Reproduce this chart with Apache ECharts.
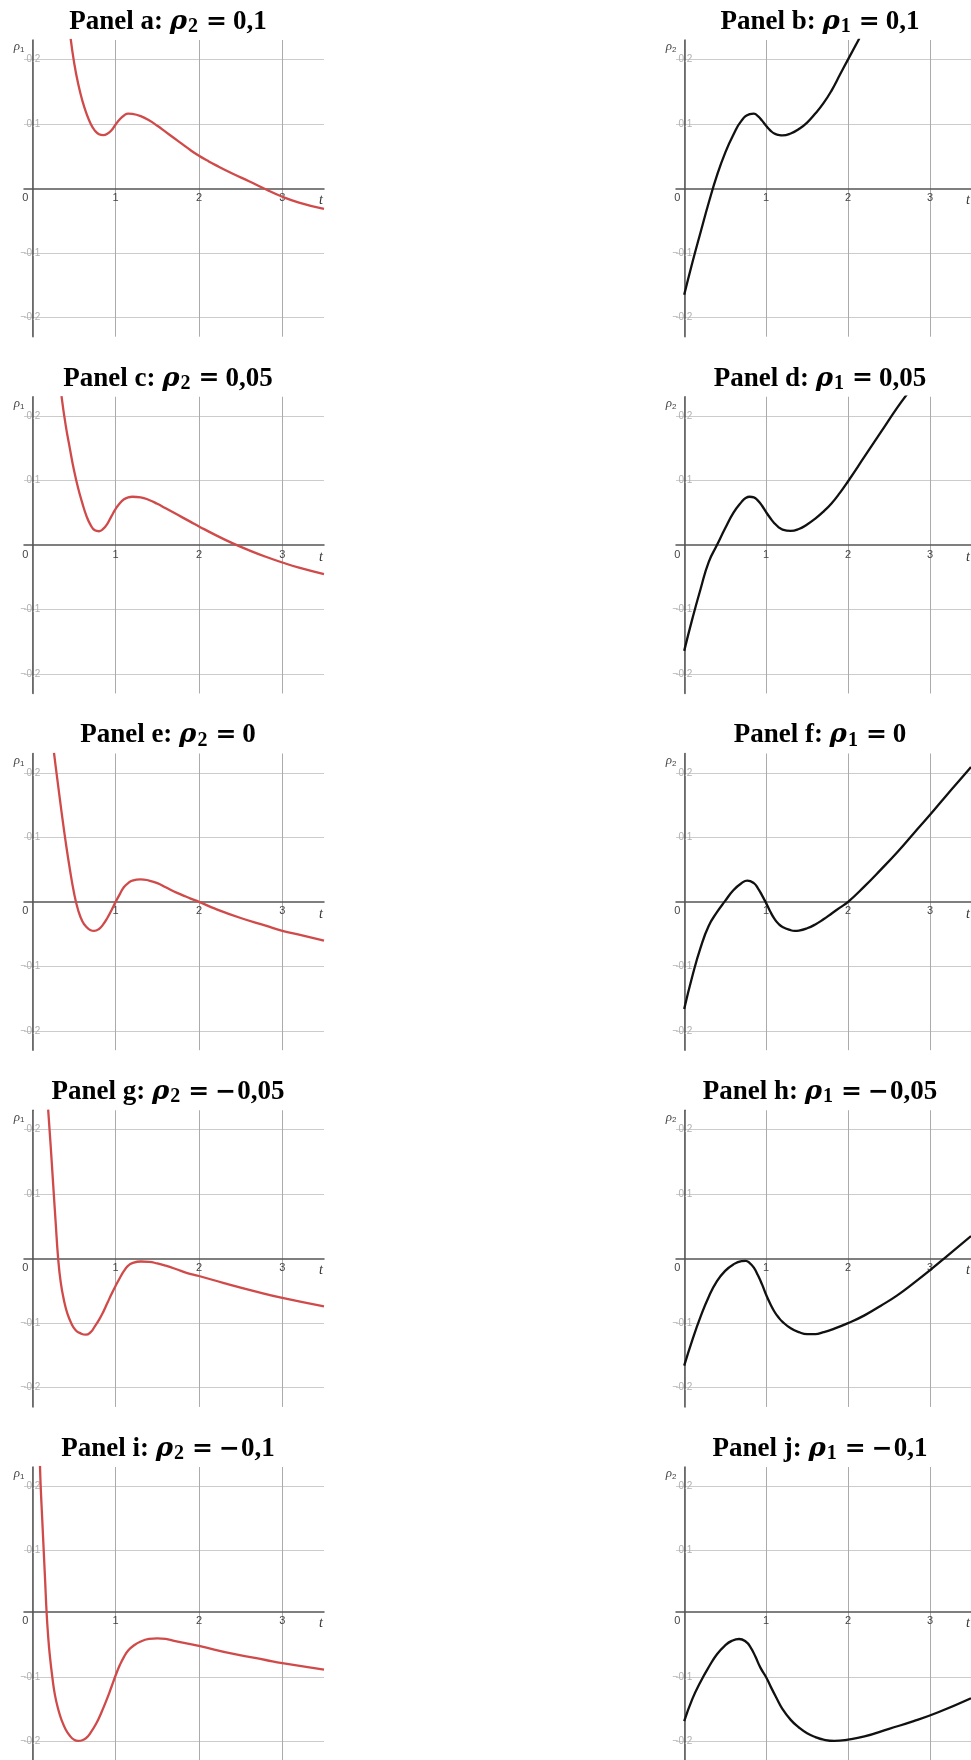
<!DOCTYPE html>
<html>
<head>
<meta charset="utf-8">
<script src="https://cdn.jsdelivr.net/npm/echarts@6/dist/echarts.min.js"></script>
<style>
  html, body { margin: 0; padding: 0; background: #fff; }
  #chart { width: 971px; height: 1760px; }
</style>
</head>
<body>
<div id="chart"></div>
<script>
// Panel titles: letter, which rho is held fixed and its value
const panelLetters = ['a', 'b', 'c', 'd', 'e', 'f', 'g', 'h', 'i', 'j'];
const fixedIndex   = ['2', '1', '2', '1', '2', '1', '2', '1', '2', '1'];
const fixedValue   = ['0,1', '0,1', '0,05', '0,05', '0', '0', '−0,05', '−0,05', '−0,1', '−0,1'];

// Tick labels
const xTicks = [0, 1, 2, 3];
const yTicks = [-0.2, -0.1, 0.1, 0.2];

// Panel a: rho1(t), rho2 = 0,1
const tA = [0.46, 0.5, 0.55, 0.6, 0.65, 0.7, 0.75, 0.8, 0.85, 0.9, 0.95, 1.0, 1.05, 1.1, 1.15, 1.2, 1.3, 1.4, 1.5, 1.6, 1.7, 1.8, 1.9, 2.0, 2.1, 2.2, 2.4, 2.6, 2.8, 3.0, 3.2, 3.5];
const vA = [0.232, 0.196, 0.162, 0.136, 0.116, 0.100, 0.0895, 0.084, 0.0825, 0.0845, 0.090, 0.099, 0.107, 0.113, 0.116, 0.1155, 0.112, 0.1055, 0.097, 0.0875, 0.078, 0.0685, 0.059, 0.0505, 0.043, 0.036, 0.023, 0.011, -0.0015, -0.013, -0.022, -0.032];
// Panel b: rho2(t), rho1 = 0,1
const tB = [0, 0.1, 0.2, 0.3, 0.4, 0.5, 0.6, 0.7, 0.8, 0.85, 0.9, 0.95, 1.0, 1.05, 1.1, 1.15, 1.2, 1.3, 1.4, 1.5, 1.6, 1.7, 1.8, 1.9, 2.0, 2.14];
const vB = [-0.165, -0.115, -0.068, -0.022, 0.020, 0.055, 0.083, 0.105, 0.115, 0.116, 0.112, 0.105, 0.097, 0.090, 0.085, 0.083, 0.082, 0.085, 0.092, 0.102, 0.116, 0.132, 0.152, 0.176, 0.200, 0.233];
// Panel c: rho1(t), rho2 = 0,05
const tC = [0.35, 0.4, 0.45, 0.5, 0.55, 0.6, 0.65, 0.7, 0.75, 0.8, 0.85, 0.9, 0.95, 1.0, 1.05, 1.1, 1.15, 1.2, 1.3, 1.4, 1.5, 1.6, 1.7, 1.8, 1.9, 2.0, 2.2, 2.4, 2.6, 2.8, 3.0, 3.2, 3.5];
const vC = [0.231, 0.186, 0.150, 0.116, 0.088, 0.065, 0.045, 0.031, 0.023, 0.0215, 0.025, 0.033, 0.045, 0.056, 0.065, 0.071, 0.074, 0.075, 0.074, 0.070, 0.064, 0.057, 0.050, 0.043, 0.036, 0.029, 0.0155, 0.003, -0.008, -0.018, -0.027, -0.035, -0.045];
// Panel d: rho2(t), rho1 = 0,05
const tD = [0, 0.1, 0.2, 0.3, 0.4, 0.5, 0.6, 0.7, 0.75, 0.8, 0.85, 0.9, 0.95, 1.0, 1.05, 1.1, 1.15, 1.2, 1.3, 1.4, 1.5, 1.6, 1.7, 1.8, 1.9, 2.0, 2.2, 2.4, 2.6, 2.72];
const vD = [-0.164, -0.114, -0.068, -0.026, 0, 0.026, 0.050, 0.067, 0.073, 0.075, 0.074, 0.069, 0.061, 0.051, 0.042, 0.034, 0.028, 0.024, 0.022, 0.025, 0.032, 0.041, 0.052, 0.065, 0.081, 0.099, 0.137, 0.175, 0.213, 0.234];
// Panel e: rho1(t), rho2 = 0
const tE = [0.26, 0.28, 0.3, 0.35, 0.4, 0.45, 0.5, 0.55, 0.6, 0.65, 0.7, 0.74, 0.8, 0.85, 0.9, 0.95, 1.0, 1.05, 1.1, 1.15, 1.2, 1.3, 1.4, 1.5, 1.6, 1.7, 1.8, 1.9, 2.0, 2.2, 2.5, 2.8, 3.0, 3.2, 3.5];
const vE = [0.231, 0.210, 0.190, 0.140, 0.093, 0.051, 0.014, -0.013, -0.030, -0.039, -0.044, -0.045, -0.042, -0.035, -0.025, -0.013, 0, 0.012, 0.023, 0.029, 0.033, 0.035, 0.033, 0.029, 0.0225, 0.016, 0.0105, 0.005, 0, -0.011, -0.025, -0.037, -0.045, -0.051, -0.060];
// Panel f: rho2(t), rho1 = 0
const tF = [0, 0.1, 0.2, 0.3, 0.4, 0.5, 0.6, 0.7, 0.77, 0.85, 0.9, 0.95, 1.0, 1.05, 1.1, 1.15, 1.2, 1.3, 1.35, 1.4, 1.5, 1.6, 1.7, 1.8, 1.9, 2.0, 2.2, 2.4, 2.6, 2.8, 3.0, 3.2, 3.44, 3.5];
const vF = [-0.166, -0.115, -0.071, -0.037, -0.016, 0.0015, 0.018, 0.029, 0.033, 0.029, 0.021, 0.010, -0.002, -0.015, -0.026, -0.034, -0.039, -0.044, -0.045, -0.0445, -0.041, -0.035, -0.027, -0.018, -0.009, 0, 0.024, 0.050, 0.077, 0.106, 0.135, 0.165, 0.200, 0.209];
// Panel g: rho1(t), rho2 = -0,05
const tG = [0.19, 0.22, 0.25, 0.28, 0.31, 0.34, 0.38, 0.42, 0.47, 0.52, 0.58, 0.64, 0.7, 0.75, 0.8, 0.85, 0.9, 0.95, 1.0, 1.05, 1.1, 1.15, 1.2, 1.3, 1.4, 1.5, 1.6, 1.73, 1.85, 2.0, 2.3, 2.65, 3.0, 3.5];
const vG = [0.231, 0.175, 0.115, 0.056, 0, -0.036, -0.065, -0.085, -0.101, -0.111, -0.116, -0.118, -0.114, -0.105, -0.095, -0.083, -0.069, -0.055, -0.042, -0.030, -0.019, -0.011, -0.007, -0.0045, -0.005, -0.0075, -0.011, -0.0165, -0.022, -0.027, -0.038, -0.050, -0.061, -0.074];
// Panel h: rho2(t), rho1 = -0,05
const tH = [0, 0.1, 0.2, 0.3, 0.4, 0.5, 0.6, 0.7, 0.75, 0.8, 0.85, 0.9, 0.95, 1.0, 1.05, 1.1, 1.15, 1.2, 1.3, 1.4, 1.5, 1.6, 1.7, 1.8, 2.0, 2.2, 2.4, 2.6, 2.8, 3.0, 3.2, 3.5];
const vH = [-0.166, -0.126, -0.090, -0.059, -0.035, -0.019, -0.009, -0.004, -0.0035, -0.007, -0.014, -0.026, -0.040, -0.056, -0.070, -0.082, -0.091, -0.098, -0.108, -0.114, -0.117, -0.117, -0.114, -0.110, -0.100, -0.088, -0.073, -0.057, -0.038, -0.018, 0.003, 0.035];
// Panel i: rho1(t), rho2 = -0,1
const tI = [0.092, 0.10, 0.118, 0.136, 0.154, 0.172, 0.19, 0.21, 0.24, 0.27, 0.31, 0.35, 0.4, 0.45, 0.5, 0.55, 0.6, 0.65, 0.7, 0.77, 0.83, 0.89, 0.95, 1.0, 1.05, 1.1, 1.15, 1.21, 1.3, 1.4, 1.5, 1.6, 1.7, 1.85, 2.0, 2.4, 2.8, 3.0, 3.5];
const vI = [0.232, 0.200, 0.150, 0.100, 0.050, 0, -0.036, -0.066, -0.100, -0.127, -0.150, -0.167, -0.182, -0.192, -0.198, -0.200, -0.199, -0.195, -0.187, -0.172, -0.155, -0.136, -0.115, -0.097, -0.081, -0.068, -0.058, -0.051, -0.044, -0.040, -0.039, -0.040, -0.043, -0.047, -0.051, -0.063, -0.073, -0.078, -0.088];
// Panel j: rho2(t), rho1 = -0,1
const tJ = [0, 0.1, 0.2, 0.3, 0.4, 0.5, 0.58, 0.67, 0.75, 0.81, 0.87, 0.93, 1.0, 1.06, 1.12, 1.2, 1.3, 1.4, 1.5, 1.6, 1.7, 1.83, 2.0, 2.2, 2.5, 2.8, 3.1, 3.5];
const vJ = [-0.169, -0.134, -0.107, -0.084, -0.064, -0.050, -0.043, -0.040, -0.044, -0.053, -0.068, -0.085, -0.100, -0.116, -0.131, -0.150, -0.167, -0.179, -0.188, -0.194, -0.198, -0.200, -0.198, -0.193, -0.181, -0.169, -0.155, -0.133];

const panelT = [tA, tB, tC, tD, tE, tF, tG, tH, tI, tJ];
const panelV = [vA, vB, vC, vD, vE, vF, vG, vH, vI, vJ];

// Axis ranges
const X_MIN = -0.1, X_MAX = 3.5;
const Y_MIN = -0.23, Y_MAX = 0.23;

// Layout
const ROW_PITCH = 356.75;
const GRID_TOP = 40;
const GRID_W = 300;
const GRID_H = 296.7;
const LEFT_X = 24;
const RIGHT_X = 676;
const RED = '#d04a4a';
const BLACK = '#111111';

// The axes cross at the origin; shift them in from the grid edges
const X_AXIS_SHIFT = -GRID_H * (0 - Y_MIN) / (Y_MAX - Y_MIN);
const Y_AXIS_SHIFT = -GRID_W * (0 - X_MIN) / (X_MAX - X_MIN);

const labelFont = 'Liberation Sans, Arial, sans-serif';
const serif = 'Liberation Serif, Times New Roman, serif';
const mathSerif = 'DejaVu Serif, serif';

const grids = [], xAxes = [], yAxes = [], series = [], titles = [];

function titleText(letter, idx, value) {
  let valuePart = value;
  let minus = '';
  if (value.startsWith('−')) { minus = '{m|−}'; valuePart = value.slice(1); }
  return `{p|Panel ${letter}: }{r|ρ}{s|${idx}}{e|=}${minus}{v|${valuePart}}`;
}

panelLetters.forEach((letter, i) => {
  const row = Math.floor(i / 2);
  const isLeft = i % 2 === 0;
  const gx = isLeft ? LEFT_X : RIGHT_X;
  const gy = GRID_TOP + row * ROW_PITCH;

  grids.push({ left: gx, top: gy, width: GRID_W, height: GRID_H, containLabel: false });

  titles.push({
    text: titleText(letter, fixedIndex[i], fixedValue[i]),
    left: gx + GRID_W / 2 - 6,
    top: gy - 33,
    padding: 0,
    textAlign: 'center',
    textVerticalAlign: 'top',
    textStyle: {
      rich: {
        p: { fontFamily: serif, fontWeight: 'bold', fontSize: 27, color: '#000', lineHeight: 30, verticalAlign: 'middle' },
        r: { fontFamily: mathSerif, fontWeight: 'bold', fontStyle: 'italic', fontSize: 26, color: '#000', lineHeight: 30, verticalAlign: 'middle' },
        s: { fontFamily: serif, fontWeight: 'bold', fontSize: 20, color: '#000', lineHeight: 16, verticalAlign: 'bottom', padding: [0, 1, 0, 1] },
        e: { fontFamily: mathSerif, fontWeight: 'bold', fontSize: 25, color: '#000', lineHeight: 30, verticalAlign: 'middle', padding: [0, 6, 0, 7] },
        m: { fontFamily: mathSerif, fontWeight: 'bold', fontSize: 25, color: '#000', lineHeight: 30, verticalAlign: 'middle', padding: [0, 1, 0, 0] },
        v: { fontFamily: serif, fontWeight: 'bold', fontSize: 27, color: '#000', lineHeight: 30, verticalAlign: 'middle' }
      }
    }
  });

  xAxes.push({
    gridIndex: i,
    type: 'value',
    min: X_MIN,
    max: X_MAX,
    position: 'bottom',
    offset: X_AXIS_SHIFT,
    axisLine: { onZero: false, lineStyle: { color: '#555', width: 1.5 } },
    axisTick: { show: false, customValues: xTicks },
    axisLabel: {
      customValues: xTicks,
      color: '#444',
      fontSize: 11,
      fontFamily: labelFont,
      margin: 4,
      formatter: v => (v === 0 ? '{z|0}' : String(v)),
      rich: { z: { color: '#444', fontSize: 11, fontFamily: labelFont, padding: [0, 14, 0, 0] } }
    },
    splitLine: { show: true, lineStyle: { color: '#ababab', width: 1 } },
    name: 't',
    nameLocation: 'end',
    nameGap: -5,
    nameTextStyle: { fontFamily: serif, fontStyle: 'italic', fontSize: 14, color: '#333', verticalAlign: 'top', padding: [5, 0, 0, 0] }
  });

  const varIdx = isLeft ? '1' : '2';
  yAxes.push({
    gridIndex: i,
    type: 'value',
    min: Y_MIN,
    max: Y_MAX,
    position: 'left',
    offset: Y_AXIS_SHIFT,
    axisLine: { onZero: false, lineStyle: { color: '#555', width: 1.5 } },
    axisTick: { show: false, customValues: yTicks },
    axisLabel: {
      customValues: yTicks,
      color: '#b0b0b0',
      fontSize: 10,
      fontFamily: labelFont,
      margin: -8,
      formatter: v => (v < 0 ? '−' : '') + Math.abs(v).toFixed(1)
    },
    splitLine: { show: true, lineStyle: { color: '#cccccc', width: 1 } },
    name: `{r|ρ}{s|${varIdx}}`,
    nameLocation: 'end',
    nameGap: -14,
    nameTextStyle: {
      align: 'right',
      padding: [0, 8, 0, 0],
      rich: {
        r: { fontFamily: serif, fontStyle: 'italic', fontSize: 13, color: '#444', verticalAlign: 'middle', lineHeight: 14 },
        s: { fontFamily: labelFont, fontSize: 8, color: '#444', verticalAlign: 'bottom', lineHeight: 10 }
      }
    }
  });

  series.push({
    type: 'line',
    xAxisIndex: i,
    yAxisIndex: i,
    data: panelT[i].map((t, k) => [t, panelV[i][k]]),
    showSymbol: false,
    smooth: 0.5,
    clip: true,
    silent: true,
    lineStyle: { color: isLeft ? RED : BLACK, width: 2.3 }
  });
});

const chart = echarts.init(document.getElementById('chart'), null, { renderer: 'canvas' });
chart.setOption({
  animation: false,
  backgroundColor: '#fff',
  title: titles,
  grid: grids,
  xAxis: xAxes,
  yAxis: yAxes,
  series: series
});
</script>
</body>
</html>
